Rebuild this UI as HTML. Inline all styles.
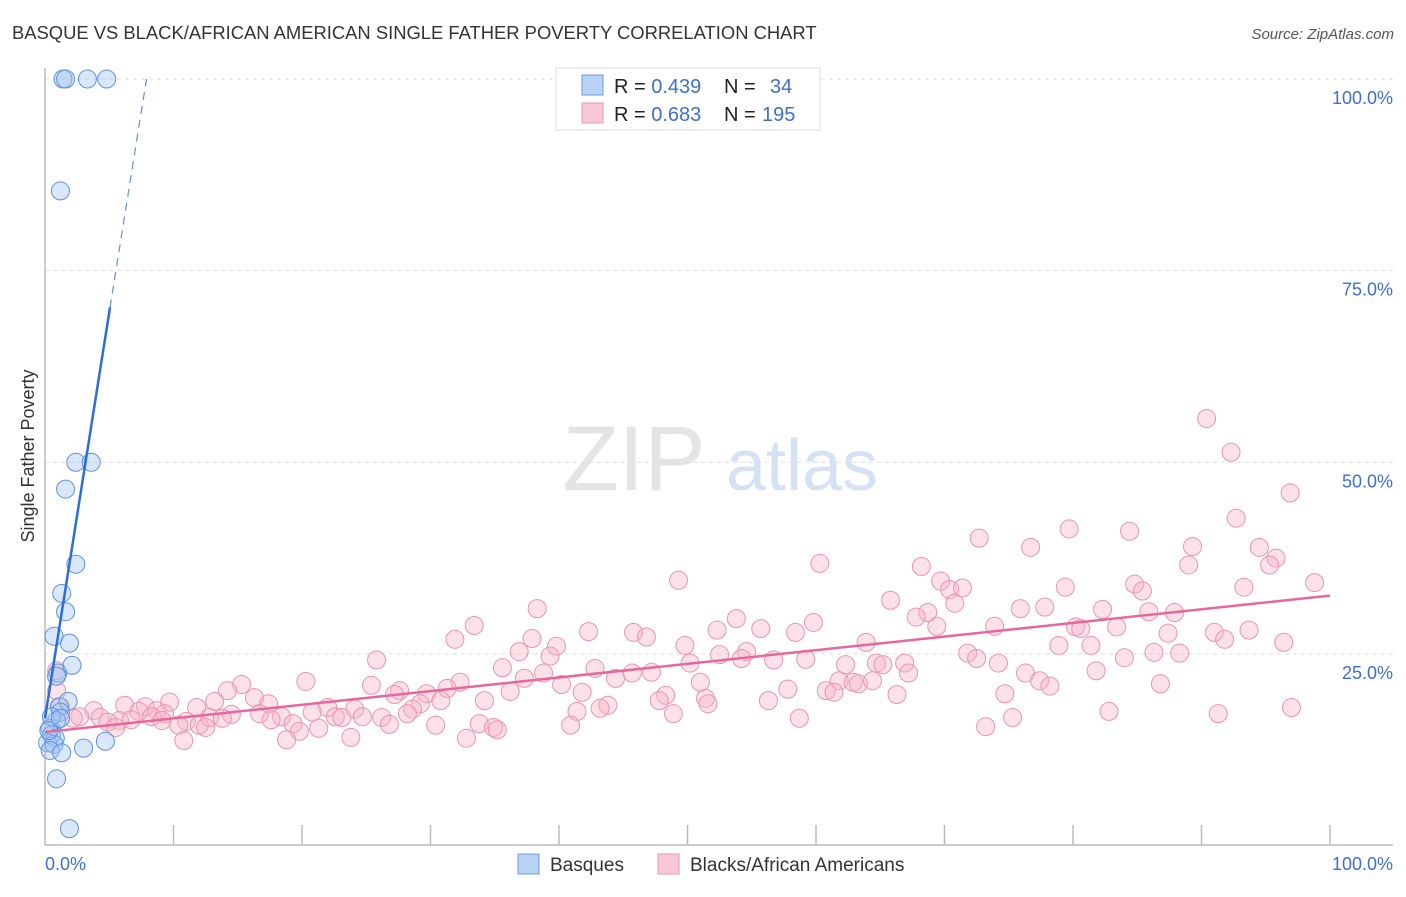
<!DOCTYPE html>
<html><head><meta charset="utf-8"><style>
body{margin:0;background:#fff;font-family:"Liberation Sans",sans-serif;}
svg text{font-family:"Liberation Sans",sans-serif;}
</style></head><body>
<svg id="chart" width="1406" height="892" viewBox="0 0 1406 892" xmlns="http://www.w3.org/2000/svg">
<text x="12" y="39" font-size="18.4" fill="#333">BASQUE VS BLACK/AFRICAN AMERICAN SINGLE FATHER POVERTY CORRELATION CHART</text>
<text x="1394" y="39" font-size="15" fill="#555" font-style="italic" text-anchor="end">Source: ZipAtlas.com</text>
<g>
<text x="634" y="490" font-size="92" fill="#e4e4e4" font-family="Liberation Serif" text-anchor="middle">ZIP</text>
<text x="802" y="490" font-size="72" fill="#d4e2f4" text-anchor="middle">atlas</text>
</g>
<g id="grid"></g>
<g id="axes"></g>
<g id="pink"></g>
<g id="blue"></g>
<g id="lines"></g>
<text x="34" y="456" font-size="18" fill="#333" text-anchor="middle" transform="rotate(-90 34 456)">Single Father Poverty</text>
<text x="45" y="870" font-size="18" fill="#3d6fd0">0.0%</text>
<text x="1393" y="870" font-size="18" fill="#3d6fd0" text-anchor="end">100.0%</text>
<g>
<rect x="556" y="68" width="264" height="62" fill="#fff" stroke="#ddd"/>
<rect x="582" y="75" width="21" height="20" fill="#b8d3f5" stroke="#6a9be0"/>
<rect x="582" y="103" width="21" height="20" fill="#f9c8d6" stroke="#ea97b2"/>
<text x="614" y="93" font-size="20" fill="#222">R = <tspan fill="#3d6fd0">0.439</tspan><tspan x="724">N = </tspan><tspan x="770" fill="#3d6fd0">34</tspan></text>
<text x="614" y="121" font-size="20" fill="#222">R = <tspan fill="#3d6fd0">0.683</tspan><tspan x="724">N = </tspan><tspan x="762" fill="#3d6fd0">195</tspan></text>
</g>
<g>
<rect x="518" y="854" width="21" height="20" fill="#b8d3f5" stroke="#6a9be0"/>
<text x="550" y="871" font-size="19" fill="#333">Basques</text>
<rect x="658" y="854" width="21" height="20" fill="#f9c8d6" stroke="#ea97b2"/>
<text x="690" y="871" font-size="19" fill="#333">Blacks/African Americans</text>
</g>
</svg>
<script>
const yTicks=[25,50,75,100];
const yTickLabels=["25.0%","50.0%","75.0%","100.0%"];
const xTicks=[10,20,30,40,50,60,70,80,90,100];
const blueX=[1.4,1.6,3.3,4.8,1.2,2.4,3.6,1.6,2.4,1.3,1.6,0.7,1.9,1.0,2.1,0.9,1.1,1.8,1.2,0.9,0.4,0.5,0.8,0.2,0.7,0.4,1.3,3.0,4.7,0.9,1.9,0.5,0.3,1.2];
const blueY=[100,100,100,100,85.4,50,50,46.5,36.7,32.9,30.5,27.3,26.4,22.5,23.5,22.1,18.1,18.8,17.4,16.3,15.3,14.4,14.0,13.4,13.2,12.4,12.1,12.7,13.6,8.7,2.2,16.8,15.0,16.6];
const pinkX=[90.4,92.3,96.9,92.7,79.7,84.4,72.7,76.7,89.3,94.5,60.3,68.2,89.0,95.8,95.3,49.3,69.7,84.8,79.4,70.4,71.4,85.4,93.3,98.8,65.8,70.8,38.3,75.9,77.8,82.3,85.9,87.9,68.7,67.8,53.8,59.8,33.4,69.4,73.9,80.2,80.6,83.4,42.3,45.8,52.3,55.7,58.4,87.4,91.0,93.7,46.8,31.9,37.9,91.8,49.8,63.9,78.9,81.4,96.4,39.8,36.9,52.5,54.6,71.8,88.3,86.3,39.3,54.2,56.7,59.2,72.5,84.0,25.8,50.2,62.3,64.7,65.2,66.9,74.2,35.6,42.8,45.7,47.2,76.3,67.2,38.8,81.8,32.3,37.3,40.2,44.4,51.0,61.8,62.9,63.3,64.4,77.4,78.2,86.8,20.3,15.3,25.4,27.6,31.3,14.2,36.2,41.8,57.8,60.8,61.4,74.7,27.2,29.7,66.3,16.3,48.3,13.2,47.8,17.4,51.4,34.2,9.7,6.2,30.8,29.2,43.8,51.6,56.3,7.8,11.8,22.0,24.1,28.6,7.3,3.8,8.7,41.4,43.2,82.8,97.0,20.8,22.6,24.7,28.2,8.3,9.3,14.5,16.7,18.4,12.8,17.6,23.1,48.9,75.3,91.3,2.7,2.2,4.3,5.8,4.9,6.7,9.1,11.0,12.0,13.8,19.3,26.2,30.4,33.8,40.9,58.7,73.2,5.5,10.4,12.5,19.8,21.3,26.8,34.9,35.2,18.8,10.8,23.8,32.8,0.9,0.9,1.2];
const pinkY=[55.7,51.3,46.0,42.7,41.3,41.0,40.1,38.9,39.0,38.9,36.8,36.4,36.6,37.5,36.6,34.6,34.5,34.1,33.7,33.4,33.6,33.2,33.7,34.3,32.0,31.6,30.9,30.9,31.1,30.8,30.5,30.4,30.4,29.8,29.6,29.1,28.7,28.6,28.6,28.5,28.3,28.5,27.9,27.8,28.1,28.3,27.8,27.7,27.8,28.1,27.2,26.9,27.0,26.9,26.1,26.5,26.1,26.1,26.5,26.0,25.3,24.9,25.3,25.1,25.1,25.2,24.7,24.4,24.2,24.3,24.4,24.5,24.2,23.8,23.6,23.8,23.6,23.8,23.8,23.2,23.1,22.5,22.6,22.5,22.5,22.5,22.8,21.3,21.8,21.0,21.8,21.3,21.5,21.3,21.1,21.5,21.5,20.8,21.1,21.4,21.0,20.9,20.2,20.5,20.2,20.1,20.0,20.4,20.2,20.0,19.8,19.7,19.8,19.7,19.3,19.6,18.8,18.9,18.5,19.2,18.9,18.7,18.3,18.9,18.5,18.3,18.5,18.9,18.1,18.0,18.0,17.8,17.8,17.5,17.6,17.6,17.5,17.9,17.5,18.0,17.4,16.8,16.8,17.2,16.8,17.2,17.1,17.2,16.8,16.7,16.4,16.7,17.2,16.7,17.2,16.8,16.6,16.7,16.3,16.1,16.4,16.3,16.2,15.7,16.6,15.9,16.7,15.7,15.9,15.7,16.6,15.5,15.4,15.7,15.4,14.9,15.3,15.8,15.4,15.1,13.8,13.7,14.1,14.0,22.8,20.2,18.1];
const blueTrend=[[0,16.6],[5.06,70.2]];
const blueTrendDash=[[5.06,70.2],[7.9,100]];
const pinkTrend=[[0,14.8],[100,32.6]];
const X0=45,X1=1330,Y0=845.5,Y100=79;
const sx=v=>X0+(X1-X0)*v/100;
const sy=v=>Y0-(Y0-Y100)*v/100;
const NS="http://www.w3.org/2000/svg";
function mk(tag,attrs,parent){const e=document.createElementNS(NS,tag);for(const k in attrs)e.setAttribute(k,attrs[k]);document.getElementById(parent).appendChild(e);return e;}
yTicks.forEach((t,i)=>{
 const l=mk('line',{x1:45,x2:1393,y1:sy(t),y2:sy(t),stroke:'#ddd','stroke-dasharray':'4,4'},'grid');
 
 
 const tx=mk('text',{x:1393,y:sy(t)+25,'font-size':18,fill:'#3d6fd0','text-anchor':'end'},'grid');
 tx.textContent=yTickLabels[i];
 
 
});
const ya=mk('line',{x1:45,x2:45,y1:68,y2:845,stroke:'#bbb','stroke-width':1.5},'axes');


const xa=mk('line',{x1:45,x2:1393,y1:845,y2:845,stroke:'#bbb','stroke-width':1.5},'axes');


xTicks.forEach(t=>{
 const l=mk('line',{x1:sx(t),x2:sx(t),y1:825,y2:845,stroke:'#bbb','stroke-width':1.5},'axes');
 
 
});
pinkX.forEach((x,i)=>{
 const c=mk('circle',{cx:sx(x),cy:sy(pinkY[i]),r:9,fill:'rgba(248,180,200,0.4)',stroke:'#ec93b0','stroke-width':1},'pink');
 
 
});
blueX.forEach((x,i)=>{
 const c=mk('circle',{cx:sx(x),cy:sy(blueY[i]),r:9,fill:'rgba(160,196,240,0.4)',stroke:'#5d91e0','stroke-width':1},'blue');
 
 
});
const bl=mk('line',{x1:sx(blueTrend[0][0]),y1:sy(blueTrend[0][1]),x2:sx(blueTrend[1][0]),y2:sy(blueTrend[1][1]),stroke:'#2a6fd8','stroke-width':2.5},'lines');


const bd=mk('line',{x1:sx(blueTrendDash[0][0]),y1:sy(blueTrendDash[0][1]),x2:sx(blueTrendDash[1][0]),y2:sy(blueTrendDash[1][1]),stroke:'#5d91e0','stroke-width':1.2,'stroke-dasharray':'8,6'},'lines');


const pl=mk('line',{x1:sx(pinkTrend[0][0]),y1:sy(pinkTrend[0][1]),x2:sx(pinkTrend[1][0]),y2:sy(pinkTrend[1][1]),stroke:'#e8679a','stroke-width':2.5},'lines');


</script>
</body></html>
